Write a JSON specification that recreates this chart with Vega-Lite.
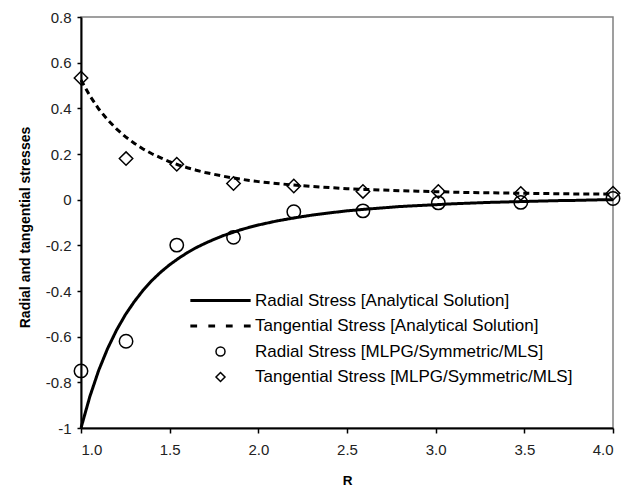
{
  "$schema": "https://vega.github.io/schema/vega-lite/v6.json",
  "width": 532,
  "height": 411,
  "autosize": "none",
  "padding": {"left": 81, "top": 17, "right": 25, "bottom": 61},
  "background": "white",
  "config": {
    "font": "Liberation Sans",
    "view": {"stroke": "#808080", "strokeWidth": 1.5},
    "axis": {"grid": false, "labelFont": "Liberation Sans", "titleFont": "Liberation Sans", "labelColor": "#222", "titleColor": "#000", "domainColor": "#000", "tickColor": "#000"}
  },
  "datasets": {
    "analytical": [
      {"r": 1.0, "radial": -1.0, "tangential": 0.524},
      {"r": 1.05, "radial": -0.862, "tangential": 0.455},
      {"r": 1.1, "radial": -0.747, "tangential": 0.397},
      {"r": 1.15, "radial": -0.652, "tangential": 0.35},
      {"r": 1.2, "radial": -0.572, "tangential": 0.31},
      {"r": 1.25, "radial": -0.504, "tangential": 0.276},
      {"r": 1.3, "radial": -0.447, "tangential": 0.247},
      {"r": 1.35, "radial": -0.397, "tangential": 0.222},
      {"r": 1.4, "radial": -0.354, "tangential": 0.201},
      {"r": 1.45, "radial": -0.317, "tangential": 0.183},
      {"r": 1.5, "radial": -0.285, "tangential": 0.166},
      {"r": 1.55, "radial": -0.257, "tangential": 0.152},
      {"r": 1.6, "radial": -0.232, "tangential": 0.14},
      {"r": 1.65, "radial": -0.21, "tangential": 0.129},
      {"r": 1.7, "radial": -0.191, "tangential": 0.119},
      {"r": 1.75, "radial": -0.174, "tangential": 0.111},
      {"r": 1.8, "radial": -0.158, "tangential": 0.103},
      {"r": 1.85, "radial": -0.145, "tangential": 0.096},
      {"r": 1.9, "radial": -0.132, "tangential": 0.09},
      {"r": 1.95, "radial": -0.121, "tangential": 0.084},
      {"r": 2.0, "radial": -0.111, "tangential": 0.079},
      {"r": 2.1, "radial": -0.094, "tangential": 0.071},
      {"r": 2.2, "radial": -0.08, "tangential": 0.064},
      {"r": 2.3, "radial": -0.068, "tangential": 0.058},
      {"r": 2.4, "radial": -0.058, "tangential": 0.053},
      {"r": 2.5, "radial": -0.049, "tangential": 0.048},
      {"r": 2.6, "radial": -0.042, "tangential": 0.045},
      {"r": 2.7, "radial": -0.036, "tangential": 0.042},
      {"r": 2.8, "radial": -0.03, "tangential": 0.039},
      {"r": 2.9, "radial": -0.026, "tangential": 0.037},
      {"r": 3.0, "radial": -0.022, "tangential": 0.035},
      {"r": 3.1, "radial": -0.018, "tangential": 0.033},
      {"r": 3.2, "radial": -0.015, "tangential": 0.031},
      {"r": 3.3, "radial": -0.012, "tangential": 0.03},
      {"r": 3.4, "radial": -0.01, "tangential": 0.029},
      {"r": 3.5, "radial": -0.008, "tangential": 0.028},
      {"r": 3.6, "radial": -0.006, "tangential": 0.027},
      {"r": 3.7, "radial": -0.004, "tangential": 0.026},
      {"r": 3.8, "radial": -0.003, "tangential": 0.025},
      {"r": 3.9, "radial": -0.001, "tangential": 0.025},
      {"r": 4.0, "radial": 0.0, "tangential": 0.024}
    ],
    "mlpg": [
      {"r": 1.0, "series": "Radial Stress [MLPG/Symmetric/MLS]", "stress": -0.75},
      {"r": 1.254, "series": "Radial Stress [MLPG/Symmetric/MLS]", "stress": -0.62},
      {"r": 1.54, "series": "Radial Stress [MLPG/Symmetric/MLS]", "stress": -0.199},
      {"r": 1.86, "series": "Radial Stress [MLPG/Symmetric/MLS]", "stress": -0.165},
      {"r": 2.2, "series": "Radial Stress [MLPG/Symmetric/MLS]", "stress": -0.053},
      {"r": 2.59, "series": "Radial Stress [MLPG/Symmetric/MLS]", "stress": -0.049},
      {"r": 3.015, "series": "Radial Stress [MLPG/Symmetric/MLS]", "stress": -0.014},
      {"r": 3.48, "series": "Radial Stress [MLPG/Symmetric/MLS]", "stress": -0.012},
      {"r": 4.0, "series": "Radial Stress [MLPG/Symmetric/MLS]", "stress": 0.005},
      {"r": 1.0, "series": "Tangential Stress [MLPG/Symmetric/MLS]", "stress": 0.533},
      {"r": 1.254, "series": "Tangential Stress [MLPG/Symmetric/MLS]", "stress": 0.18},
      {"r": 1.54, "series": "Tangential Stress [MLPG/Symmetric/MLS]", "stress": 0.155},
      {"r": 1.86, "series": "Tangential Stress [MLPG/Symmetric/MLS]", "stress": 0.071},
      {"r": 2.2, "series": "Tangential Stress [MLPG/Symmetric/MLS]", "stress": 0.06},
      {"r": 2.59, "series": "Tangential Stress [MLPG/Symmetric/MLS]", "stress": 0.036},
      {"r": 3.015, "series": "Tangential Stress [MLPG/Symmetric/MLS]", "stress": 0.036},
      {"r": 3.48, "series": "Tangential Stress [MLPG/Symmetric/MLS]", "stress": 0.027},
      {"r": 4.0, "series": "Tangential Stress [MLPG/Symmetric/MLS]", "stress": 0.028}
    ]
  },
  "encoding": {
    "x": {
      "field": "r", "type": "quantitative",
      "scale": {"domain": [1, 4], "nice": false, "zero": false},
      "axis": {
        "title": "R", "titleFontSize": 13.5, "titleFontWeight": "bold", "titlePadding": 16,
        "values": [1, 1.5, 2, 2.5, 3, 3.5, 4], "format": ".1f",
        "labelFontSize": 15, "labelPadding": 9, "tickSize": 5, "tickWidth": 1.5,
        "domainWidth": 2
      }
    }
  },
  "layer": [
    {
      "data": {"name": "analytical"},
      "transform": [
        {"fold": ["radial", "tangential"], "as": ["kind", "stress"]}
      ],
      "mark": {"type": "line", "strokeWidth": 3, "color": "#000", "interpolate": "linear"},
      "encoding": {
        "y": {
          "field": "stress", "type": "quantitative",
          "scale": {"domain": [-1, 0.8], "nice": false, "zero": false},
          "axis": {
            "title": "Radial and tangential stresses", "titleFontSize": 14, "titleFontWeight": "bold", "titlePadding": 13, "titleY": 210,
            "values": [-1, -0.8, -0.6, -0.4, -0.2, 0, 0.2, 0.4, 0.6, 0.8],
            "labelExpr": "'' + round(datum.value * 10) / 10",
            "labelFontSize": 15, "labelPadding": 6, "tickSize": 4, "tickWidth": 1.5,
            "domainWidth": 2
          }
        },
        "strokeDash": {
          "field": "kind", "type": "nominal",
          "scale": {"domain": ["radial", "tangential"], "range": [[1, 0], [6, 4]]},
          "legend": null
        },
        "detail": {"field": "kind"}
      }
    },
    {
      "data": {"name": "mlpg"},
      "mark": {"type": "point", "filled": false, "color": "#000", "size": 180, "opacity": 1},
      "encoding": {
        "y": {"field": "stress", "type": "quantitative"},
        "shape": {
          "field": "series", "type": "nominal",
          "scale": {
            "domain": ["Radial Stress [Analytical Solution]", "Tangential Stress [Analytical Solution]", "Radial Stress [MLPG/Symmetric/MLS]", "Tangential Stress [MLPG/Symmetric/MLS]"],
            "range": ["M-6.7,0H6.7", "M-6.7,0H-5.2M-2.7,0H-1.2M1.2,0H2.7M5.2,0H6.7", "circle", "diamond"]
          },
          "legend": {
            "title": null, "orient": "none", "legendX": 131, "legendY": 275,
            "padding": 0, "symbolSize": 81, "symbolStrokeColor": "#000", "symbolFillColor": "transparent",
            "labelFontSize": 17, "labelFont": "Liberation Sans", "labelColor": "#000", "labelOffset": 26,
            "rowPadding": 7.5, "labelLimit": 400
          }
        },
        "strokeWidth": {
          "field": "series", "type": "nominal",
          "scale": {
            "type": "ordinal",
            "domain": ["Radial Stress [Analytical Solution]", "Tangential Stress [Analytical Solution]", "Radial Stress [MLPG/Symmetric/MLS]", "Tangential Stress [MLPG/Symmetric/MLS]"],
            "range": [3, 3, 1.5, 1.5]
          },
          "legend": {
            "title": null, "orient": "none", "legendX": 131, "legendY": 275,
            "padding": 0, "symbolSize": 81, "labelFontSize": 17, "labelOffset": 26, "rowPadding": 7.5, "labelLimit": 400
          }
        }
      }
    }
  ]
}
